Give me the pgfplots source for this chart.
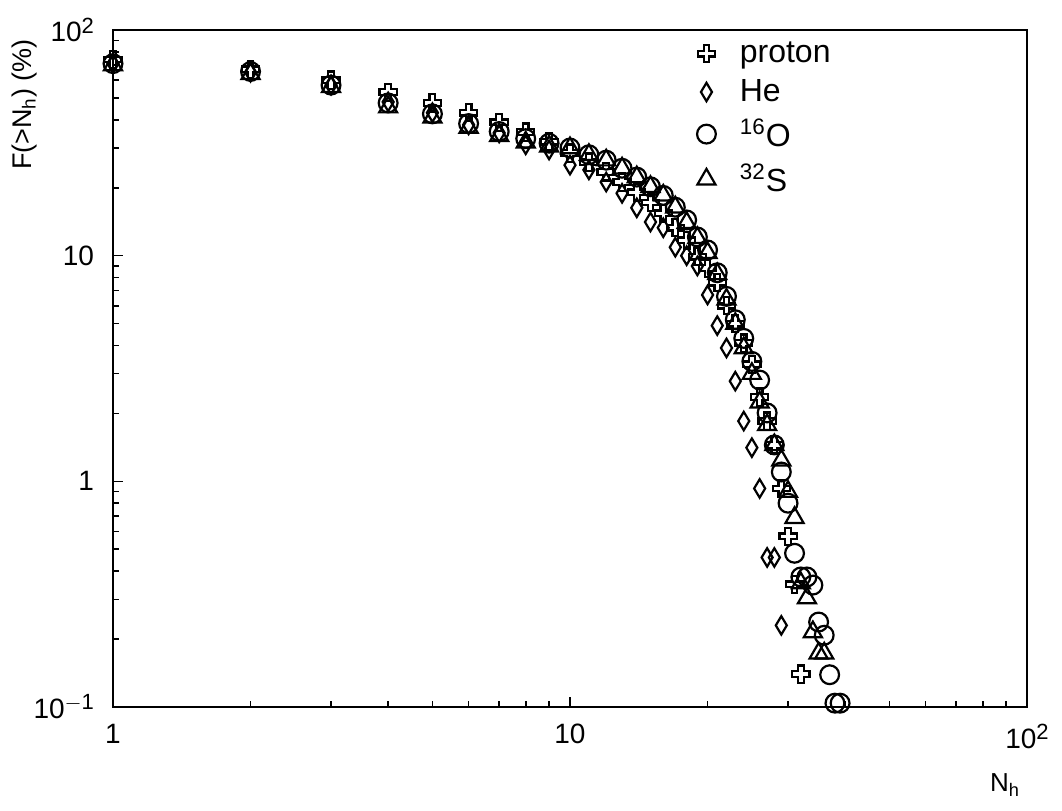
\documentclass[border=0pt]{standalone}
\usepackage{fontspec}
\setmainfont{Liberation Sans}
\usepackage{pgfplots}
\pgfplotsset{compat=1.18}
\pgfdeclareplotmark{ocross}{%
  \pgfpathmoveto{\pgfqpoint{-0.33\pgfplotmarksize}{\pgfplotmarksize}}%
  \pgfpathlineto{\pgfqpoint{0.33\pgfplotmarksize}{\pgfplotmarksize}}%
  \pgfpathlineto{\pgfqpoint{0.33\pgfplotmarksize}{0.33\pgfplotmarksize}}%
  \pgfpathlineto{\pgfqpoint{\pgfplotmarksize}{0.33\pgfplotmarksize}}%
  \pgfpathlineto{\pgfqpoint{\pgfplotmarksize}{-0.33\pgfplotmarksize}}%
  \pgfpathlineto{\pgfqpoint{0.33\pgfplotmarksize}{-0.33\pgfplotmarksize}}%
  \pgfpathlineto{\pgfqpoint{0.33\pgfplotmarksize}{-\pgfplotmarksize}}%
  \pgfpathlineto{\pgfqpoint{-0.33\pgfplotmarksize}{-\pgfplotmarksize}}%
  \pgfpathlineto{\pgfqpoint{-0.33\pgfplotmarksize}{-0.33\pgfplotmarksize}}%
  \pgfpathlineto{\pgfqpoint{-\pgfplotmarksize}{-0.33\pgfplotmarksize}}%
  \pgfpathlineto{\pgfqpoint{-\pgfplotmarksize}{0.33\pgfplotmarksize}}%
  \pgfpathlineto{\pgfqpoint{-0.33\pgfplotmarksize}{0.33\pgfplotmarksize}}%
  \pgfpathclose
  \pgfusepathqstroke
}
\newcommand{\sups}[1]{\raisebox{0.6ex}{\fontsize{11}{12}\selectfont #1}}
\begin{document}
\begin{tikzpicture}
\useasboundingbox (-56.5pt,-51.5pt) rectangle (474.5pt,353.5pt);
\begin{axis}[
  scale only axis,
  width=457pt, height=338.5pt,
  xmode=log, ymode=log,
  xmin=1, xmax=100, ymin=0.1, ymax=100,
  clip=false,
  axis line style={line width=1pt},
  tick pos=left,
  tick align=inside,
  major tick length=5pt,
  minor tick length=3pt,
  every tick/.style={black, line width=0.8pt},
  xtick={1,10,100},
  xticklabels={1,10,10\sups{2}},
  ytick={0.1,1,10,100},
  yticklabels={10\sups{$-$1},1,10,10\sups{2}},
  ticklabel style={font=\fontsize{14}{16}\selectfont},
  xticklabel style={yshift=-5pt},
  yticklabel style={xshift=-6pt},
  xlabel={N\textsubscript{h}},
  xlabel style={at={(axis description cs:0.976,-0.115)}, anchor=center, font=\fontsize{13}{15}\selectfont},
  ylabel={F(>N\textsubscript{h}) (\%)},
  ylabel style={at={(axis description cs:-0.097,0.89)}, anchor=center, font=\fontsize{13.5}{15}\selectfont},
  legend style={draw=none, fill=none, at={(axis description cs:0.632,0.995)}, anchor=north west,
    font=\fontsize{16}{18}\selectfont, row sep=3pt, column sep=10pt},
  legend cell align=left,
]
\addplot[only marks, mark=ocross, mark size=4.3pt, line width=1.1pt] coordinates {
(1,74)(2,67)(3,60)(4,53)(5,47.5)(6,43)(7,39)(8,35.3)(9,32)(10,28.5)
(11,26)(12,23.5)(13,21.2)(14,19.1)(15,17.2)(16,15.4)(17,13.3)(18,11.7)(19,9.9)(20,8.8)
(21,7.6)(22,6.0)(23,5.0)(24,4.1)(25,3.3)(26,2.36)(27,1.85)(28,1.45)(29,0.93)(30,0.57)
(31,0.35)(32,0.14)
};
\addlegendentry{proton}
\addplot[only marks, mark=diamond, mark size=4.6pt, line width=1.1pt, mark options={xscale=0.8}] coordinates {
(1,71)(2,65)(3,57)(4,48)(5,43)(6,38)(7,35)(8,31)(9,29.4)(10,25.2)
(11,24)(12,21.2)(13,18.9)(14,16.3)(15,14.1)(16,13.3)(17,10.9)(18,10.0)(19,9.0)(20,6.7)
(21,4.9)(22,3.9)(23,2.78)(24,1.85)(25,1.41)(26,0.93)(27,0.46)(28,0.46)(29,0.23)
};
\addlegendentry{He}
\addplot[only marks, mark=o, mark size=4.7pt, line width=1.1pt] coordinates {
(1,71)(2,65.5)(3,57)(4,47.5)(5,42.5)(6,38.5)(7,35.5)(8,33)(9,31.5)(10,30)
(11,28)(12,26.5)(13,24.4)(14,22.3)(15,20.2)(16,18.5)(17,16.4)(18,14.4)(19,12.1)(20,10.6)
(21,8.4)(22,6.6)(23,5.2)(24,4.3)(25,3.4)(26,2.81)(27,2.01)(28,1.45)(29,1.10)(30,0.80)
(31,0.48)(32,0.377)(33,0.377)(34,0.347)(35,0.238)(36,0.208)(37,0.139)(38,0.104)(39,0.104)
};
\addlegendentry{\textsuperscript{16}O}
\addplot[only marks, mark=triangle, mark size=5.2pt, line width=1.1pt] coordinates {
(1,70)(2,64)(3,56)(4,45.5)(5,41)(6,37)(7,34)(8,31.8)(9,30.5)(10,30)
(11,28)(12,26.5)(13,24.4)(14,22.3)(15,20.2)(16,18.5)(17,16.4)(18,14.0)(19,12)(20,10.3)
(21,8.3)(22,6.4)(23,5.0)(24,3.9)(25,3.0)(26,2.24)(27,1.78)(28,1.45)(29,1.24)(30,0.90)
(31,0.69)(32,0.354)(33,0.304)(34,0.215)(35,0.173)(36,0.173)
};
\addlegendentry{\textsuperscript{32}S}
\end{axis}
\end{tikzpicture}
\end{document}
